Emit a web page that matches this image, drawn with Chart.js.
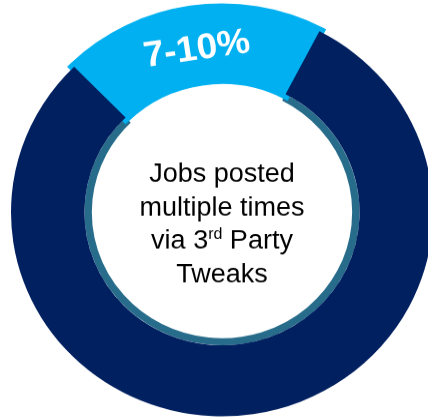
<!DOCTYPE html>
<html>
<head>
<meta charset="utf-8">
<script src="https://cdn.jsdelivr.net/npm/chart.js@4/dist/chart.umd.min.js"></script>
<style>
  html, body { margin: 0; padding: 0; background: #fff; overflow: hidden; }
  #wrap {
    position: relative;
    width: 444px;
    height: 439px;
    transform: scaleY(0.967);
    transform-origin: 0 0;
  }
</style>
</head>
<body>
<div id="wrap"><canvas id="myChart"></canvas></div>
<script>
// data (share of the ring, %)
const segments = ['3rd Party Tweaks', 'Other'];
const shares = [20, 80];
const colors = ['#00B0F0', '#002060'];
const pctLabel = '7-10%';
const centerLines = ['Jobs posted', 'multiple times', 'via 3', 'rd', ' Party', 'Tweaks'];

const ringColor = '#276C8A';

// teal rim inside the navy part + texts
const donutText = {
  id: 'donutText',
  beforeDatasetsDraw(chart) {
    const { ctx } = chart;
    const navy = chart.getDatasetMeta(0).data[1];
    ctx.save();
    ctx.strokeStyle = ringColor;
    ctx.lineWidth = 7.4;
    ctx.beginPath();
    ctx.arc(navy.x, navy.y, navy.innerRadius - 3.7, navy.startAngle, navy.endAngle);
    ctx.stroke();
    ctx.restore();
  },
  afterDatasetsDraw(chart) {
    const { ctx } = chart;
    const blue = chart.getDatasetMeta(0).data[0];
    const cx = blue.x, cy = blue.y;

    // percentage label on the light blue slice
    const mid = (blue.startAngle + blue.endAngle) / 2;
    const r = 170;
    ctx.save();
    ctx.translate(cx + Math.cos(mid) * r, cy + Math.sin(mid) * r);
    ctx.rotate(mid + Math.PI / 2);
    ctx.fillStyle = '#fff';
    ctx.font = 'bold 37px "Liberation Sans", Arial, sans-serif';
    ctx.textAlign = 'center';
    ctx.textBaseline = 'middle';
    ctx.fillText(pctLabel, 0, 0);
    ctx.restore();

    // center text
    ctx.save();
    ctx.fillStyle = '#000';
    const big = '27px "Liberation Sans", Arial, sans-serif';
    const small = '16px "Liberation Sans", Arial, sans-serif';
    const lh = 34.5;
    let y = cy - 31.5;
    ctx.font = big;
    ctx.textAlign = 'center';
    ctx.textBaseline = 'alphabetic';
    ctx.fillText(centerLines[0], cx, y);
    y += lh;
    ctx.fillText(centerLines[1], cx, y);
    y += lh;
    // line with superscript
    ctx.textAlign = 'left';
    const w1 = ctx.measureText(centerLines[2]).width;
    const w3 = ctx.measureText(centerLines[4]).width;
    ctx.font = small;
    const w2 = ctx.measureText(centerLines[3]).width;
    let x = cx - (w1 + w2 + w3) / 2;
    ctx.font = big;
    ctx.fillText(centerLines[2], x, y);
    x += w1;
    ctx.font = small;
    ctx.fillText(centerLines[3], x, y - 10);
    x += w2;
    ctx.font = big;
    ctx.fillText(centerLines[4], x, y);
    y += lh;
    ctx.textAlign = 'center';
    ctx.fillText(centerLines[5], cx, y);
    ctx.restore();
  }
};

const config = {
  type: 'doughnut',
  data: {
    labels: segments,
    datasets: [{
      data: shares,
      backgroundColor: colors,
      borderColor: [colors[0], colors[1]],
      borderWidth: [10, 0],
      borderJoinStyle: 'miter',
      hoverOffset: 0
    }]
  },
  options: {
    responsive: true,
    maintainAspectRatio: false,
    animation: false,
    events: [],
    rotation: -44.5,
    radius: 211,
    cutout: '65.2%',
    layout: { padding: 0 },
    plugins: {
      legend: { display: false },
      tooltip: { enabled: false }
    }
  },
  plugins: [donutText]
};

const myChart = new Chart(document.getElementById('myChart'), config);
</script>
</body>
</html>
